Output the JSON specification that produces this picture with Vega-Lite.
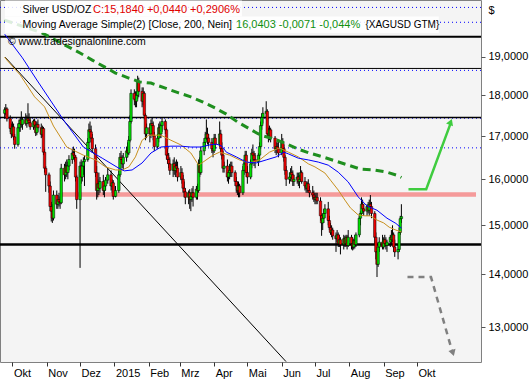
{
  "$schema": "https://vega.github.io/schema/vega-lite/v6.json",
  "width": 481,
  "height": 362,
  "autosize": {"type": "none"},
  "padding": {"left": 0, "top": 0, "right": 48, "bottom": 18},
  "background": "#ffffff",
  "config": {
    "font": "Liberation Sans",
    "view": {"fill": "#f4f4f4", "stroke": "#808080", "strokeWidth": 1}
  },
  "datasets": {
    "one": [{}],
    "ohlc": [
      {"d":"2014-09-24","o":17.55,"h":17.70,"l":17.42,"c":17.64},
      {"d":"2014-09-25","o":17.64,"h":17.78,"l":17.50,"c":17.66},
      {"d":"2014-09-26","o":17.66,"h":17.70,"l":17.35,"c":17.42},
      {"d":"2014-09-29","o":17.42,"h":17.50,"l":17.10,"c":17.18},
      {"d":"2014-09-30","o":17.18,"h":17.30,"l":16.95,"c":17.05},
      {"d":"2014-10-01","o":17.05,"h":17.35,"l":17.00,"c":17.22},
      {"d":"2014-10-02","o":17.22,"h":17.30,"l":16.90,"c":16.98},
      {"d":"2014-10-03","o":16.98,"h":17.05,"l":16.70,"c":16.80},
      {"d":"2014-10-06","o":16.80,"h":17.30,"l":16.75,"c":17.20},
      {"d":"2014-10-07","o":17.20,"h":17.40,"l":17.10,"c":17.30},
      {"d":"2014-10-08","o":17.30,"h":17.45,"l":17.10,"c":17.38},
      {"d":"2014-10-09","o":17.38,"h":17.60,"l":17.20,"c":17.28},
      {"d":"2014-10-10","o":17.28,"h":17.45,"l":17.15,"c":17.40},
      {"d":"2014-10-13","o":17.40,"h":17.55,"l":17.25,"c":17.30},
      {"d":"2014-10-14","o":17.30,"h":17.50,"l":17.20,"c":17.42},
      {"d":"2014-10-15","o":17.42,"h":17.80,"l":17.30,"c":17.38},
      {"d":"2014-10-16","o":17.38,"h":17.55,"l":17.25,"c":17.32},
      {"d":"2014-10-17","o":17.32,"h":17.45,"l":17.15,"c":17.22},
      {"d":"2014-10-20","o":17.22,"h":17.40,"l":17.15,"c":17.36},
      {"d":"2014-10-21","o":17.36,"h":17.42,"l":17.20,"c":17.26},
      {"d":"2014-10-22","o":17.26,"h":17.35,"l":17.00,"c":17.08},
      {"d":"2014-10-23","o":17.08,"h":17.35,"l":17.02,"c":17.28},
      {"d":"2014-10-24","o":17.28,"h":17.40,"l":17.10,"c":17.20},
      {"d":"2014-10-27","o":17.20,"h":17.30,"l":16.95,"c":17.04},
      {"d":"2014-10-28","o":17.04,"h":17.25,"l":16.98,"c":17.18},
      {"d":"2014-10-29","o":17.18,"h":17.22,"l":16.55,"c":16.62},
      {"d":"2014-10-30","o":16.62,"h":16.70,"l":16.15,"c":16.25},
      {"d":"2014-10-31","o":16.25,"h":16.30,"l":15.72,"c":16.10},
      {"d":"2014-11-03","o":16.10,"h":16.15,"l":15.70,"c":15.85},
      {"d":"2014-11-04","o":15.85,"h":15.95,"l":15.30,"c":15.40},
      {"d":"2014-11-05","o":15.40,"h":15.50,"l":15.08,"c":15.30},
      {"d":"2014-11-06","o":15.30,"h":15.45,"l":15.05,"c":15.15},
      {"d":"2014-11-07","o":15.15,"h":15.75,"l":15.10,"c":15.65},
      {"d":"2014-11-10","o":15.65,"h":15.75,"l":15.35,"c":15.45},
      {"d":"2014-11-11","o":15.45,"h":15.65,"l":15.35,"c":15.55},
      {"d":"2014-11-12","o":15.55,"h":15.70,"l":15.40,"c":15.50},
      {"d":"2014-11-13","o":15.50,"h":15.62,"l":15.35,"c":15.48},
      {"d":"2014-11-14","o":15.48,"h":16.35,"l":15.45,"c":16.25},
      {"d":"2014-11-17","o":16.25,"h":16.35,"l":15.95,"c":16.10},
      {"d":"2014-11-18","o":16.10,"h":16.40,"l":16.00,"c":16.30},
      {"d":"2014-11-19","o":16.30,"h":16.45,"l":16.05,"c":16.15},
      {"d":"2014-11-20","o":16.15,"h":16.40,"l":16.00,"c":16.30},
      {"d":"2014-11-21","o":16.30,"h":16.55,"l":16.20,"c":16.45},
      {"d":"2014-11-24","o":16.45,"h":16.70,"l":16.35,"c":16.60},
      {"d":"2014-11-25","o":16.60,"h":16.75,"l":16.45,"c":16.55},
      {"d":"2014-11-26","o":16.55,"h":16.70,"l":16.40,"c":16.50},
      {"d":"2014-11-27","o":16.50,"h":16.55,"l":15.95,"c":16.05},
      {"d":"2014-11-28","o":16.05,"h":16.10,"l":15.35,"c":15.55},
      {"d":"2014-12-01","o":15.55,"h":16.40,"l":14.13,"c":16.30},
      {"d":"2014-12-02","o":16.30,"h":16.45,"l":15.90,"c":16.05},
      {"d":"2014-12-03","o":16.05,"h":16.40,"l":15.95,"c":16.30},
      {"d":"2014-12-04","o":16.30,"h":16.50,"l":16.10,"c":16.40},
      {"d":"2014-12-05","o":16.40,"h":16.55,"l":15.85,"c":16.45},
      {"d":"2014-12-08","o":16.45,"h":16.95,"l":16.40,"c":16.85},
      {"d":"2014-12-09","o":16.85,"h":17.30,"l":16.70,"c":17.15},
      {"d":"2014-12-10","o":17.15,"h":17.35,"l":16.95,"c":17.10},
      {"d":"2014-12-11","o":17.10,"h":17.25,"l":16.85,"c":16.95},
      {"d":"2014-12-12","o":16.95,"h":17.05,"l":16.60,"c":16.70},
      {"d":"2014-12-15","o":16.70,"h":16.80,"l":16.05,"c":16.15},
      {"d":"2014-12-16","o":16.15,"h":16.30,"l":15.55,"c":15.75},
      {"d":"2014-12-17","o":15.75,"h":16.00,"l":15.60,"c":15.90},
      {"d":"2014-12-18","o":15.90,"h":16.15,"l":15.65,"c":15.80},
      {"d":"2014-12-19","o":15.80,"h":16.05,"l":15.70,"c":15.95},
      {"d":"2014-12-22","o":15.95,"h":16.10,"l":15.65,"c":15.75},
      {"d":"2014-12-23","o":15.75,"h":15.95,"l":15.60,"c":15.85},
      {"d":"2014-12-24","o":15.85,"h":16.05,"l":15.75,"c":15.98},
      {"d":"2014-12-26","o":15.98,"h":16.25,"l":15.90,"c":16.10},
      {"d":"2014-12-29","o":16.10,"h":16.20,"l":15.75,"c":15.85},
      {"d":"2014-12-30","o":15.85,"h":16.00,"l":15.70,"c":15.92},
      {"d":"2014-12-31","o":15.92,"h":15.98,"l":15.55,"c":15.62},
      {"d":"2015-01-02","o":15.62,"h":15.85,"l":15.60,"c":15.75},
      {"d":"2015-01-05","o":15.75,"h":16.20,"l":15.70,"c":16.10},
      {"d":"2015-01-06","o":16.10,"h":16.60,"l":16.05,"c":16.50},
      {"d":"2015-01-07","o":16.50,"h":16.65,"l":16.35,"c":16.45},
      {"d":"2015-01-08","o":16.45,"h":16.55,"l":16.25,"c":16.35},
      {"d":"2015-01-09","o":16.35,"h":16.60,"l":16.20,"c":16.50},
      {"d":"2015-01-12","o":16.50,"h":16.75,"l":16.40,"c":16.65},
      {"d":"2015-01-13","o":16.65,"h":16.85,"l":16.50,"c":16.60},
      {"d":"2015-01-14","o":16.60,"h":17.00,"l":16.55,"c":16.90},
      {"d":"2015-01-15","o":16.90,"h":17.50,"l":16.85,"c":17.35},
      {"d":"2015-01-16","o":17.35,"h":18.15,"l":17.30,"c":18.05},
      {"d":"2015-01-19","o":18.05,"h":18.15,"l":17.75,"c":17.90},
      {"d":"2015-01-20","o":17.90,"h":18.10,"l":17.70,"c":17.85},
      {"d":"2015-01-21","o":17.85,"h":18.10,"l":17.70,"c":18.00},
      {"d":"2015-01-22","o":18.00,"h":18.50,"l":17.90,"c":18.35},
      {"d":"2015-01-23","o":18.35,"h":18.45,"l":17.95,"c":18.10},
      {"d":"2015-01-26","o":18.10,"h":18.20,"l":17.70,"c":17.85},
      {"d":"2015-01-27","o":17.85,"h":18.20,"l":17.75,"c":18.05},
      {"d":"2015-01-28","o":18.05,"h":18.10,"l":17.40,"c":17.50},
      {"d":"2015-01-29","o":17.50,"h":17.55,"l":16.90,"c":17.05},
      {"d":"2015-01-30","o":17.05,"h":17.30,"l":16.95,"c":17.20},
      {"d":"2015-02-02","o":17.20,"h":17.30,"l":16.85,"c":17.05},
      {"d":"2015-02-03","o":17.05,"h":17.40,"l":16.95,"c":17.30},
      {"d":"2015-02-04","o":17.30,"h":17.45,"l":17.10,"c":17.25},
      {"d":"2015-02-05","o":17.25,"h":17.35,"l":16.90,"c":17.00},
      {"d":"2015-02-06","o":17.00,"h":17.10,"l":16.65,"c":16.75},
      {"d":"2015-02-09","o":16.75,"h":17.05,"l":16.70,"c":16.95},
      {"d":"2015-02-10","o":16.95,"h":17.30,"l":16.85,"c":17.20},
      {"d":"2015-02-11","o":17.20,"h":17.35,"l":16.95,"c":17.05},
      {"d":"2015-02-12","o":17.05,"h":17.30,"l":16.95,"c":17.25},
      {"d":"2015-02-13","o":17.25,"h":17.45,"l":17.10,"c":17.35},
      {"d":"2015-02-16","o":17.35,"h":17.40,"l":17.05,"c":17.15},
      {"d":"2015-02-17","o":17.15,"h":17.20,"l":16.45,"c":16.55},
      {"d":"2015-02-18","o":16.55,"h":16.70,"l":16.35,"c":16.45},
      {"d":"2015-02-19","o":16.45,"h":16.60,"l":16.25,"c":16.35},
      {"d":"2015-02-20","o":16.35,"h":16.50,"l":16.10,"c":16.20},
      {"d":"2015-02-23","o":16.20,"h":16.45,"l":16.05,"c":16.35},
      {"d":"2015-02-24","o":16.35,"h":16.50,"l":16.10,"c":16.20},
      {"d":"2015-02-25","o":16.20,"h":16.40,"l":16.05,"c":16.30},
      {"d":"2015-02-26","o":16.30,"h":16.45,"l":16.15,"c":16.25},
      {"d":"2015-02-27","o":16.25,"h":16.40,"l":15.95,"c":16.05},
      {"d":"2015-03-02","o":16.05,"h":16.30,"l":15.98,"c":16.15},
      {"d":"2015-03-03","o":16.15,"h":16.25,"l":15.90,"c":16.00},
      {"d":"2015-03-04","o":16.00,"h":16.10,"l":15.70,"c":15.80},
      {"d":"2015-03-05","o":15.80,"h":15.95,"l":15.60,"c":15.72},
      {"d":"2015-03-06","o":15.72,"h":15.80,"l":15.45,"c":15.60},
      {"d":"2015-03-09","o":15.60,"h":15.75,"l":15.45,"c":15.70},
      {"d":"2015-03-10","o":15.70,"h":15.78,"l":15.35,"c":15.55},
      {"d":"2015-03-11","o":15.55,"h":15.65,"l":15.30,"c":15.62},
      {"d":"2015-03-12","o":15.62,"h":15.80,"l":15.50,"c":15.70},
      {"d":"2015-03-13","o":15.70,"h":15.85,"l":15.40,"c":15.60},
      {"d":"2015-03-16","o":15.60,"h":15.85,"l":15.55,"c":15.78},
      {"d":"2015-03-17","o":15.78,"h":15.90,"l":15.55,"c":15.75},
      {"d":"2015-03-18","o":15.75,"h":16.45,"l":15.70,"c":16.35},
      {"d":"2015-03-19","o":16.35,"h":16.50,"l":16.05,"c":16.15},
      {"d":"2015-03-20","o":16.15,"h":16.75,"l":16.10,"c":16.65},
      {"d":"2015-03-23","o":16.65,"h":16.95,"l":16.55,"c":16.85},
      {"d":"2015-03-24","o":16.85,"h":17.10,"l":16.70,"c":16.95},
      {"d":"2015-03-25","o":16.95,"h":17.40,"l":16.90,"c":17.05},
      {"d":"2015-03-26","o":17.05,"h":17.20,"l":16.80,"c":16.95},
      {"d":"2015-03-27","o":16.95,"h":17.05,"l":16.75,"c":16.85},
      {"d":"2015-03-30","o":16.85,"h":16.95,"l":16.60,"c":16.70},
      {"d":"2015-03-31","o":16.70,"h":16.80,"l":16.50,"c":16.65},
      {"d":"2015-04-01","o":16.65,"h":17.05,"l":16.60,"c":16.95},
      {"d":"2015-04-02","o":16.95,"h":17.05,"l":16.70,"c":16.80},
      {"d":"2015-04-06","o":16.80,"h":17.35,"l":16.75,"c":17.05},
      {"d":"2015-04-07","o":17.05,"h":17.15,"l":16.60,"c":16.70},
      {"d":"2015-04-08","o":16.70,"h":16.85,"l":16.45,"c":16.55},
      {"d":"2015-04-09","o":16.55,"h":16.65,"l":16.15,"c":16.25},
      {"d":"2015-04-10","o":16.25,"h":16.40,"l":16.15,"c":16.30},
      {"d":"2015-04-13","o":16.30,"h":16.45,"l":15.95,"c":16.05},
      {"d":"2015-04-14","o":16.05,"h":16.20,"l":15.90,"c":16.15},
      {"d":"2015-04-15","o":16.15,"h":16.35,"l":16.00,"c":16.20},
      {"d":"2015-04-16","o":16.20,"h":16.40,"l":16.05,"c":16.30},
      {"d":"2015-04-17","o":16.30,"h":16.40,"l":16.05,"c":16.15},
      {"d":"2015-04-20","o":16.15,"h":16.20,"l":15.85,"c":15.95},
      {"d":"2015-04-21","o":15.95,"h":16.05,"l":15.70,"c":15.85},
      {"d":"2015-04-22","o":15.85,"h":15.95,"l":15.65,"c":15.75},
      {"d":"2015-04-23","o":15.75,"h":15.95,"l":15.60,"c":15.85},
      {"d":"2015-04-24","o":15.85,"h":15.90,"l":15.60,"c":15.70},
      {"d":"2015-04-27","o":15.70,"h":16.30,"l":15.65,"c":16.20},
      {"d":"2015-04-28","o":16.20,"h":16.45,"l":16.10,"c":16.35},
      {"d":"2015-04-29","o":16.35,"h":16.65,"l":16.20,"c":16.55},
      {"d":"2015-04-30","o":16.55,"h":16.65,"l":16.05,"c":16.15},
      {"d":"2015-05-01","o":16.15,"h":16.30,"l":15.90,"c":16.05},
      {"d":"2015-05-04","o":16.05,"h":16.45,"l":16.00,"c":16.35},
      {"d":"2015-05-05","o":16.35,"h":16.70,"l":16.25,"c":16.60},
      {"d":"2015-05-06","o":16.60,"h":16.80,"l":16.45,"c":16.55},
      {"d":"2015-05-07","o":16.55,"h":16.65,"l":16.30,"c":16.45},
      {"d":"2015-05-08","o":16.45,"h":16.60,"l":16.25,"c":16.40},
      {"d":"2015-05-11","o":16.40,"h":16.60,"l":16.30,"c":16.55},
      {"d":"2015-05-12","o":16.55,"h":16.85,"l":16.45,"c":16.75},
      {"d":"2015-05-13","o":16.75,"h":17.35,"l":16.70,"c":17.25},
      {"d":"2015-05-14","o":17.25,"h":17.55,"l":17.15,"c":17.45},
      {"d":"2015-05-15","o":17.45,"h":17.70,"l":17.30,"c":17.55},
      {"d":"2015-05-18","o":17.55,"h":17.85,"l":17.40,"c":17.60},
      {"d":"2015-05-19","o":17.60,"h":17.65,"l":16.95,"c":17.05},
      {"d":"2015-05-20","o":17.05,"h":17.20,"l":16.85,"c":17.00},
      {"d":"2015-05-21","o":17.00,"h":17.25,"l":16.90,"c":17.15},
      {"d":"2015-05-22","o":17.15,"h":17.20,"l":16.85,"c":16.95},
      {"d":"2015-05-26","o":16.95,"h":17.00,"l":16.60,"c":16.70},
      {"d":"2015-05-27","o":16.70,"h":16.85,"l":16.55,"c":16.75},
      {"d":"2015-05-28","o":16.75,"h":16.85,"l":16.60,"c":16.70},
      {"d":"2015-05-29","o":16.70,"h":16.90,"l":16.50,"c":16.60},
      {"d":"2015-06-01","o":16.60,"h":17.05,"l":16.55,"c":16.85},
      {"d":"2015-06-02","o":16.85,"h":16.95,"l":16.60,"c":16.70},
      {"d":"2015-06-03","o":16.70,"h":16.80,"l":16.40,"c":16.50},
      {"d":"2015-06-04","o":16.50,"h":16.55,"l":16.10,"c":16.20},
      {"d":"2015-06-05","o":16.20,"h":16.30,"l":15.85,"c":16.00},
      {"d":"2015-06-08","o":16.00,"h":16.15,"l":15.90,"c":16.05},
      {"d":"2015-06-09","o":16.05,"h":16.25,"l":15.95,"c":16.15},
      {"d":"2015-06-10","o":16.15,"h":16.30,"l":16.00,"c":16.10},
      {"d":"2015-06-11","o":16.10,"h":16.20,"l":15.85,"c":15.95},
      {"d":"2015-06-12","o":15.95,"h":16.10,"l":15.85,"c":16.00},
      {"d":"2015-06-15","o":16.00,"h":16.15,"l":15.90,"c":16.05},
      {"d":"2015-06-16","o":16.05,"h":16.15,"l":15.85,"c":15.95},
      {"d":"2015-06-17","o":15.95,"h":16.10,"l":15.80,"c":16.00},
      {"d":"2015-06-18","o":16.00,"h":16.30,"l":15.95,"c":16.15},
      {"d":"2015-06-19","o":16.15,"h":16.20,"l":15.90,"c":15.95},
      {"d":"2015-06-22","o":15.95,"h":16.05,"l":15.75,"c":15.85},
      {"d":"2015-06-23","o":15.85,"h":15.95,"l":15.70,"c":15.80},
      {"d":"2015-06-24","o":15.80,"h":15.95,"l":15.70,"c":15.90},
      {"d":"2015-06-25","o":15.90,"h":16.00,"l":15.70,"c":15.75},
      {"d":"2015-06-26","o":15.75,"h":15.85,"l":15.60,"c":15.70},
      {"d":"2015-06-29","o":15.70,"h":15.85,"l":15.55,"c":15.65},
      {"d":"2015-06-30","o":15.65,"h":15.75,"l":15.50,"c":15.60},
      {"d":"2015-07-01","o":15.60,"h":15.70,"l":15.45,"c":15.55},
      {"d":"2015-07-02","o":15.55,"h":15.70,"l":15.45,"c":15.60},
      {"d":"2015-07-03","o":15.60,"h":15.70,"l":15.45,"c":15.52},
      {"d":"2015-07-06","o":15.52,"h":15.60,"l":15.10,"c":15.20},
      {"d":"2015-07-07","o":15.20,"h":15.25,"l":14.78,"c":15.05},
      {"d":"2015-07-08","o":15.05,"h":15.25,"l":14.90,"c":15.15},
      {"d":"2015-07-09","o":15.15,"h":15.35,"l":15.05,"c":15.25},
      {"d":"2015-07-10","o":15.25,"h":15.45,"l":15.15,"c":15.35},
      {"d":"2015-07-13","o":15.35,"h":15.50,"l":15.00,"c":15.10},
      {"d":"2015-07-14","o":15.10,"h":15.20,"l":14.90,"c":14.95},
      {"d":"2015-07-15","o":14.95,"h":15.05,"l":14.80,"c":14.85},
      {"d":"2015-07-16","o":14.85,"h":15.00,"l":14.75,"c":14.90},
      {"d":"2015-07-17","o":14.90,"h":14.95,"l":14.70,"c":14.78},
      {"d":"2015-07-20","o":14.78,"h":14.85,"l":14.45,"c":14.72},
      {"d":"2015-07-21","o":14.72,"h":14.90,"l":14.65,"c":14.80},
      {"d":"2015-07-22","o":14.80,"h":14.85,"l":14.55,"c":14.62},
      {"d":"2015-07-23","o":14.62,"h":14.80,"l":14.55,"c":14.70},
      {"d":"2015-07-24","o":14.70,"h":14.75,"l":14.40,"c":14.60},
      {"d":"2015-07-27","o":14.60,"h":14.80,"l":14.50,"c":14.72},
      {"d":"2015-07-28","o":14.72,"h":14.78,"l":14.55,"c":14.62},
      {"d":"2015-07-29","o":14.62,"h":14.80,"l":14.55,"c":14.75},
      {"d":"2015-07-30","o":14.75,"h":14.80,"l":14.50,"c":14.58},
      {"d":"2015-07-31","o":14.58,"h":14.90,"l":14.55,"c":14.75},
      {"d":"2015-08-03","o":14.75,"h":14.80,"l":14.50,"c":14.62},
      {"d":"2015-08-04","o":14.62,"h":14.75,"l":14.48,"c":14.55},
      {"d":"2015-08-05","o":14.55,"h":14.72,"l":14.50,"c":14.68},
      {"d":"2015-08-06","o":14.68,"h":14.80,"l":14.52,"c":14.60},
      {"d":"2015-08-07","o":14.60,"h":14.85,"l":14.55,"c":14.80},
      {"d":"2015-08-10","o":14.80,"h":15.20,"l":14.75,"c":15.15},
      {"d":"2015-08-11","o":15.15,"h":15.30,"l":15.00,"c":15.25},
      {"d":"2015-08-12","o":15.25,"h":15.60,"l":15.20,"c":15.45},
      {"d":"2015-08-13","o":15.45,"h":15.55,"l":15.25,"c":15.35},
      {"d":"2015-08-14","o":15.35,"h":15.45,"l":15.20,"c":15.30},
      {"d":"2015-08-17","o":15.30,"h":15.45,"l":15.20,"c":15.40},
      {"d":"2015-08-18","o":15.40,"h":15.50,"l":15.25,"c":15.32},
      {"d":"2015-08-19","o":15.32,"h":15.55,"l":15.20,"c":15.45},
      {"d":"2015-08-20","o":15.45,"h":15.65,"l":15.35,"c":15.40},
      {"d":"2015-08-21","o":15.40,"h":15.50,"l":15.15,"c":15.25},
      {"d":"2015-08-24","o":15.25,"h":15.30,"l":14.60,"c":14.75},
      {"d":"2015-08-25","o":14.75,"h":14.85,"l":14.30,"c":14.45},
      {"d":"2015-08-26","o":14.45,"h":14.55,"l":13.95,"c":14.20},
      {"d":"2015-08-27","o":14.20,"h":14.65,"l":14.15,"c":14.55},
      {"d":"2015-08-28","o":14.55,"h":14.75,"l":14.45,"c":14.65},
      {"d":"2015-08-31","o":14.65,"h":14.80,"l":14.50,"c":14.55},
      {"d":"2015-09-01","o":14.55,"h":14.75,"l":14.50,"c":14.70},
      {"d":"2015-09-02","o":14.70,"h":14.80,"l":14.55,"c":14.62},
      {"d":"2015-09-03","o":14.62,"h":14.75,"l":14.50,"c":14.58},
      {"d":"2015-09-04","o":14.58,"h":14.70,"l":14.45,"c":14.65},
      {"d":"2015-09-07","o":14.65,"h":14.80,"l":14.55,"c":14.75},
      {"d":"2015-09-08","o":14.75,"h":14.90,"l":14.60,"c":14.70},
      {"d":"2015-09-09","o":14.70,"h":15.00,"l":14.65,"c":14.80},
      {"d":"2015-09-10","o":14.80,"h":14.85,"l":14.45,"c":14.55},
      {"d":"2015-09-11","o":14.55,"h":14.70,"l":14.35,"c":14.45},
      {"d":"2015-09-14","o":14.45,"h":14.60,"l":14.30,"c":14.50},
      {"d":"2015-09-15","o":14.50,"h":14.95,"l":14.45,"c":14.85},
      {"d":"2015-09-16","o":14.85,"h":15.20,"l":14.80,"c":15.14},
      {"d":"2015-09-17","o":15.14,"h":15.45,"l":15.05,"c":15.184}
    ],
    "ma200": [
      {"d":"2014-09-24","v":20.00},{"d":"2014-10-28","v":19.64},{"d":"2014-12-01","v":19.10},
      {"d":"2014-12-12","v":18.91},{"d":"2014-12-23","v":18.73},{"d":"2015-01-02","v":18.57},
      {"d":"2015-01-14","v":18.44},{"d":"2015-01-24","v":18.34},{"d":"2015-02-03","v":18.31},
      {"d":"2015-02-16","v":18.18},{"d":"2015-02-28","v":18.06},{"d":"2015-03-11","v":17.96},
      {"d":"2015-03-22","v":17.83},{"d":"2015-04-02","v":17.68},{"d":"2015-04-12","v":17.53},
      {"d":"2015-04-22","v":17.34},{"d":"2015-05-03","v":17.17},{"d":"2015-05-13","v":17.02},
      {"d":"2015-05-25","v":16.93},{"d":"2015-06-04","v":16.83},{"d":"2015-06-16","v":16.69},
      {"d":"2015-06-26","v":16.60},{"d":"2015-07-08","v":16.51},{"d":"2015-07-19","v":16.42},
      {"d":"2015-07-31","v":16.32},{"d":"2015-08-11","v":16.23},{"d":"2015-08-23","v":16.21},
      {"d":"2015-09-04","v":16.16},{"d":"2015-09-14","v":16.08},{"d":"2015-09-17","v":16.04}
    ],
    "maBlue": [
      {"d":"2014-09-24","v":19.61},{"d":"2014-10-10","v":18.97},{"d":"2014-10-23","v":18.39},
      {"d":"2014-11-16","v":17.39},{"d":"2014-12-04","v":16.74},{"d":"2014-12-21","v":16.48},
      {"d":"2015-01-05","v":16.25},{"d":"2015-01-10","v":16.19},{"d":"2015-01-17","v":16.21},
      {"d":"2015-01-26","v":16.37},{"d":"2015-02-03","v":16.60},{"d":"2015-02-12","v":16.74},
      {"d":"2015-02-21","v":16.76},{"d":"2015-03-02","v":16.76},{"d":"2015-03-11","v":16.74},
      {"d":"2015-03-20","v":16.74},{"d":"2015-03-28","v":16.79},{"d":"2015-04-03","v":16.81},
      {"d":"2015-04-08","v":16.76},{"d":"2015-04-12","v":16.62},{"d":"2015-04-21","v":16.51},
      {"d":"2015-04-30","v":16.39},{"d":"2015-05-09","v":16.37},{"d":"2015-05-18","v":16.44},
      {"d":"2015-05-27","v":16.51},{"d":"2015-06-03","v":16.62},{"d":"2015-06-07","v":16.58},
      {"d":"2015-06-16","v":16.48},{"d":"2015-06-25","v":16.44},{"d":"2015-07-04","v":16.39},
      {"d":"2015-07-13","v":16.32},{"d":"2015-07-22","v":16.16},{"d":"2015-07-31","v":15.94},
      {"d":"2015-08-09","v":15.61},{"d":"2015-08-17","v":15.41},{"d":"2015-08-26","v":15.32},
      {"d":"2015-09-04","v":15.15},{"d":"2015-09-12","v":15.04},{"d":"2015-09-17","v":14.94}
    ],
    "maOrange": [
      {"d":"2014-09-24","v":18.99},{"d":"2014-09-26","v":18.91},{"d":"2014-10-08","v":18.52},
      {"d":"2014-10-21","v":17.96},{"d":"2014-10-30","v":17.71},{"d":"2014-11-07","v":17.24},
      {"d":"2014-11-19","v":16.74},{"d":"2014-12-04","v":16.55},{"d":"2014-12-15","v":16.44},
      {"d":"2014-12-24","v":16.28},{"d":"2015-01-02","v":16.21},{"d":"2015-01-08","v":16.21},
      {"d":"2015-01-14","v":16.28},{"d":"2015-01-20","v":16.51},{"d":"2015-01-26","v":16.90},
      {"d":"2015-02-01","v":17.02},{"d":"2015-02-12","v":17.02},{"d":"2015-02-21","v":16.90},
      {"d":"2015-03-02","v":16.79},{"d":"2015-03-11","v":16.60},{"d":"2015-03-18","v":16.32},
      {"d":"2015-03-22","v":16.39},{"d":"2015-03-31","v":16.55},{"d":"2015-04-06","v":16.62},
      {"d":"2015-04-15","v":16.55},{"d":"2015-04-24","v":16.44},{"d":"2015-05-03","v":16.37},
      {"d":"2015-05-12","v":16.44},{"d":"2015-05-21","v":16.62},{"d":"2015-05-30","v":16.72},
      {"d":"2015-06-07","v":16.62},{"d":"2015-06-16","v":16.51},{"d":"2015-06-25","v":16.35},
      {"d":"2015-07-01","v":16.28},{"d":"2015-07-10","v":16.14},{"d":"2015-07-15","v":15.98},
      {"d":"2015-07-22","v":15.76},{"d":"2015-07-28","v":15.54},{"d":"2015-08-02","v":15.37},
      {"d":"2015-08-09","v":15.22},{"d":"2015-08-15","v":15.20},{"d":"2015-08-20","v":15.20},
      {"d":"2015-08-26","v":15.11},{"d":"2015-09-01","v":15.05},{"d":"2015-09-06","v":14.96},
      {"d":"2015-09-12","v":14.90},{"d":"2015-09-17","v":14.86}
    ],
    "trend": [
      {"d":"2014-09-24T06:30:00Z","v":18.99},
      {"d":"2015-06-04T21:36:00Z","v":12.39}
    ],
    "up": [
      {"d":"2015-09-23T09:36:00Z","v":15.78},
      {"d":"2015-10-09T09:36:00Z","v":15.78},
      {"d":"2015-10-31T12:00:00Z","v":17.31}
    ],
    "down": [
      {"d":"2015-09-22T12:00:00Z","v":13.95},
      {"d":"2015-10-13T17:00:00Z","v":13.95},
      {"d":"2015-11-02T00:00:00Z","v":12.56}
    ]
  },
  "layer": [
    {
      "data": {"name": "one"},
      "mark": {"type": "rect", "fill": "#f59a9a"},
      "encoding": {
        "x": {"datum": {"year": 2014, "month": 11, "date": 13, "hours": 14, "utc": true}, "type": "temporal",
          "scale": {"type": "utc", "nice": false, "domain": [{"year": 2014, "month": 9, "date": 24, "hours": 6, "minutes": 30, "utc": true}, {"year": 2015, "month": 11, "date": 23, "hours": 8, "utc": true}]},
          "axis": {
            "values": [
              {"year": 2014, "month": 10, "date": 1, "utc": true},
              {"year": 2014, "month": 11, "date": 1, "utc": true},
              {"year": 2014, "month": 12, "date": 1, "utc": true},
              {"year": 2015, "month": 1, "date": 1, "utc": true},
              {"year": 2015, "month": 2, "date": 1, "utc": true},
              {"year": 2015, "month": 3, "date": 1, "utc": true},
              {"year": 2015, "month": 4, "date": 1, "utc": true},
              {"year": 2015, "month": 5, "date": 1, "utc": true},
              {"year": 2015, "month": 6, "date": 1, "utc": true},
              {"year": 2015, "month": 7, "date": 1, "utc": true},
              {"year": 2015, "month": 8, "date": 1, "utc": true},
              {"year": 2015, "month": 9, "date": 1, "utc": true},
              {"year": 2015, "month": 10, "date": 1, "utc": true}
            ],
            "labelExpr": "utcmonth(datum.value) == 0 ? utcFormat(datum.value, '%Y') : ['Jan','Feb','Mrz','Apr','Mai','Jun','Jul','Aug','Sep','Okt','Nov','Dez'][utcmonth(datum.value)]",
            "title": null, "grid": false, "domain": false,
            "tickSize": 4, "tickColor": "#333333", "labelAlign": "left", "labelOffset": 1,
            "labelPadding": 1, "labelFontSize": 11, "labelColor": "#000000", "labelFont": "Liberation Sans",
            "labelOverlap": false, "labelBound": false, "labelFlush": false
          }},
        "x2": {"datum": {"year": 2015, "month": 11, "date": 23, "hours": 8, "utc": true}},
        "y": {"datum": 15.71, "type": "quantitative",
          "scale": {"type": "log", "nice": false, "zero": false, "domain": [12.383, 20.573]},
          "axis": {
            "orient": "right", "values": [13, 14, 15, 16, 17, 18, 19],
            "labelExpr": "replace(format(datum.value, '.4f'), '.', ',')",
            "title": "$", "titleAngle": 0, "titleX": 7, "titleY": 10, "titleAlign": "left", "titleBaseline": "middle",
            "titleFontSize": 11, "titleFontWeight": "normal", "titleColor": "#000000", "titleFont": "Liberation Sans",
            "grid": false, "domain": false, "tickSize": 4, "tickColor": "#555555",
            "labelPadding": 3, "labelFontSize": 11, "labelColor": "#000000", "labelFont": "Liberation Sans",
            "labelOverlap": false, "labelBound": false, "labelFlush": false
          }},
        "y2": {"datum": 15.61}
      }
    },
    {
      "data": {"name": "one"},
      "mark": {"type": "rule", "color": "#0000ff", "strokeWidth": 1, "strokeDash": [1, 3]},
      "encoding": {"y": {"datum": 20.36, "type": "quantitative", "scale": {"type": "log", "nice": false, "zero": false, "domain": [12.383, 20.573]}}}
    },
    {
      "data": {"name": "one"},
      "mark": {"type": "rule", "color": "#0000ff", "strokeWidth": 1, "strokeDash": [1, 3]},
      "encoding": {"y": {"datum": 19.94, "type": "quantitative", "scale": {"type": "log", "nice": false, "zero": false, "domain": [12.383, 20.573]}}}
    },
    {
      "data": {"name": "one"},
      "mark": {"type": "rule", "color": "#0000ff", "strokeWidth": 1, "strokeDash": [1, 3]},
      "encoding": {"y": {"datum": 18.64, "type": "quantitative", "scale": {"type": "log", "nice": false, "zero": false, "domain": [12.383, 20.573]}}}
    },
    {
      "data": {"name": "one"},
      "mark": {"type": "rule", "color": "#0000ff", "strokeWidth": 1, "strokeDash": [1, 3]},
      "encoding": {"y": {"datum": 17.43, "type": "quantitative", "scale": {"type": "log", "nice": false, "zero": false, "domain": [12.383, 20.573]}}}
    },
    {
      "data": {"name": "one"},
      "mark": {"type": "rule", "color": "#0000ff", "strokeWidth": 1, "strokeDash": [1, 3]},
      "encoding": {"y": {"datum": 16.72, "type": "quantitative", "scale": {"type": "log", "nice": false, "zero": false, "domain": [12.383, 20.573]}}}
    },
    {
      "data": {"name": "one"},
      "mark": {"type": "rule", "color": "#000000", "strokeWidth": 2},
      "encoding": {"y": {"datum": 19.54, "type": "quantitative", "scale": {"type": "log", "nice": false, "zero": false, "domain": [12.383, 20.573]}}}
    },
    {
      "data": {"name": "one"},
      "mark": {"type": "rule", "color": "#000000", "strokeWidth": 1},
      "encoding": {"y": {"datum": 18.69, "type": "quantitative", "scale": {"type": "log", "nice": false, "zero": false, "domain": [12.383, 20.573]}}}
    },
    {
      "data": {"name": "one"},
      "mark": {"type": "rule", "color": "#000000", "strokeWidth": 1.5},
      "encoding": {"y": {"datum": 17.45, "type": "quantitative", "scale": {"type": "log", "nice": false, "zero": false, "domain": [12.383, 20.573]}}}
    },
    {
      "data": {"name": "one"},
      "mark": {"type": "rule", "color": "#000000", "strokeWidth": 2.5},
      "encoding": {"y": {"datum": 14.60, "type": "quantitative", "scale": {"type": "log", "nice": false, "zero": false, "domain": [12.383, 20.573]}}}
    },
    {
      "data": {"name": "trend"},
      "mark": {"type": "line", "color": "#000000", "strokeWidth": 1, "clip": true},
      "encoding": {
        "x": {"field": "d", "type": "temporal", "scale": {"type": "utc", "nice": false, "domain": [{"year": 2014, "month": 9, "date": 24, "hours": 6, "minutes": 30, "utc": true}, {"year": 2015, "month": 11, "date": 23, "hours": 8, "utc": true}]}},
        "y": {"field": "v", "type": "quantitative", "scale": {"type": "log", "nice": false, "zero": false, "domain": [12.383, 20.573]}}
      }
    },
    {
      "data": {"name": "ohlc"},
      "mark": {"type": "rule", "color": "#000000", "strokeWidth": 1},
      "encoding": {
        "x": {"field": "d", "type": "temporal", "scale": {"type": "utc", "nice": false, "domain": [{"year": 2014, "month": 9, "date": 24, "hours": 6, "minutes": 30, "utc": true}, {"year": 2015, "month": 11, "date": 23, "hours": 8, "utc": true}]}},
        "y": {"field": "l", "type": "quantitative", "scale": {"type": "log", "nice": false, "zero": false, "domain": [12.383, 20.573]}},
        "y2": {"field": "h"}
      }
    },
    {
      "data": {"name": "ohlc"},
      "mark": {"type": "bar", "size": 2.5, "stroke": "#000000", "strokeWidth": 0.5},
      "encoding": {
        "x": {"field": "d", "type": "temporal", "scale": {"type": "utc", "nice": false, "domain": [{"year": 2014, "month": 9, "date": 24, "hours": 6, "minutes": 30, "utc": true}, {"year": 2015, "month": 11, "date": 23, "hours": 8, "utc": true}]}},
        "y": {"field": "o", "type": "quantitative", "scale": {"type": "log", "nice": false, "zero": false, "domain": [12.383, 20.573]}},
        "y2": {"field": "c"},
        "color": {"condition": {"test": "datum.c >= datum.o", "value": "#00dd00"}, "value": "#ee0000"}
      }
    },
    {
      "data": {"name": "maOrange"},
      "mark": {"type": "line", "color": "#c8901e", "strokeWidth": 1, "clip": true},
      "encoding": {
        "x": {"field": "d", "type": "temporal", "scale": {"type": "utc", "nice": false, "domain": [{"year": 2014, "month": 9, "date": 24, "hours": 6, "minutes": 30, "utc": true}, {"year": 2015, "month": 11, "date": 23, "hours": 8, "utc": true}]}},
        "y": {"field": "v", "type": "quantitative", "scale": {"type": "log", "nice": false, "zero": false, "domain": [12.383, 20.573]}}
      }
    },
    {
      "data": {"name": "maBlue"},
      "mark": {"type": "line", "color": "#0000ff", "strokeWidth": 1, "clip": true},
      "encoding": {
        "x": {"field": "d", "type": "temporal", "scale": {"type": "utc", "nice": false, "domain": [{"year": 2014, "month": 9, "date": 24, "hours": 6, "minutes": 30, "utc": true}, {"year": 2015, "month": 11, "date": 23, "hours": 8, "utc": true}]}},
        "y": {"field": "v", "type": "quantitative", "scale": {"type": "log", "nice": false, "zero": false, "domain": [12.383, 20.573]}}
      }
    },
    {
      "data": {"name": "ma200"},
      "mark": {"type": "line", "color": "#1f8f1f", "strokeWidth": 3, "strokeDash": [8, 5], "clip": true},
      "encoding": {
        "x": {"field": "d", "type": "temporal", "scale": {"type": "utc", "nice": false, "domain": [{"year": 2014, "month": 9, "date": 24, "hours": 6, "minutes": 30, "utc": true}, {"year": 2015, "month": 11, "date": 23, "hours": 8, "utc": true}]}},
        "y": {"field": "v", "type": "quantitative", "scale": {"type": "log", "nice": false, "zero": false, "domain": [12.383, 20.573]}}
      }
    },
    {
      "data": {"name": "up"},
      "mark": {"type": "line", "color": "#3fcc3f", "strokeWidth": 2.5},
      "encoding": {
        "x": {"field": "d", "type": "temporal", "scale": {"type": "utc", "nice": false, "domain": [{"year": 2014, "month": 9, "date": 24, "hours": 6, "minutes": 30, "utc": true}, {"year": 2015, "month": 11, "date": 23, "hours": 8, "utc": true}]}},
        "y": {"field": "v", "type": "quantitative", "scale": {"type": "log", "nice": false, "zero": false, "domain": [12.383, 20.573]}}
      }
    },
    {
      "data": {"name": "one"},
      "mark": {"type": "point", "shape": "triangle-up", "filled": true, "color": "#3fcc3f", "size": 55, "angle": 21, "opacity": 1},
      "encoding": {
        "x": {"datum": {"year": 2015, "month": 10, "date": 31, "hours": 12, "utc": true}, "type": "temporal", "scale": {"type": "utc", "nice": false, "domain": [{"year": 2014, "month": 9, "date": 24, "hours": 6, "minutes": 30, "utc": true}, {"year": 2015, "month": 11, "date": 23, "hours": 8, "utc": true}]}},
        "y": {"datum": 17.34, "type": "quantitative", "scale": {"type": "log", "nice": false, "zero": false, "domain": [12.383, 20.573]}}
      }
    },
    {
      "data": {"name": "down"},
      "mark": {"type": "line", "color": "#808080", "strokeWidth": 2.5, "strokeDash": [6, 5]},
      "encoding": {
        "x": {"field": "d", "type": "temporal", "scale": {"type": "utc", "nice": false, "domain": [{"year": 2014, "month": 9, "date": 24, "hours": 6, "minutes": 30, "utc": true}, {"year": 2015, "month": 11, "date": 23, "hours": 8, "utc": true}]}},
        "y": {"field": "v", "type": "quantitative", "scale": {"type": "log", "nice": false, "zero": false, "domain": [12.383, 20.573]}}
      }
    },
    {
      "data": {"name": "one"},
      "mark": {"type": "point", "shape": "triangle-up", "filled": true, "color": "#808080", "size": 55, "angle": 163, "opacity": 1},
      "encoding": {
        "x": {"datum": {"year": 2015, "month": 11, "date": 2, "hours": 12, "utc": true}, "type": "temporal", "scale": {"type": "utc", "nice": false, "domain": [{"year": 2014, "month": 9, "date": 24, "hours": 6, "minutes": 30, "utc": true}, {"year": 2015, "month": 11, "date": 23, "hours": 8, "utc": true}]}},
        "y": {"datum": 12.54, "type": "quantitative", "scale": {"type": "log", "nice": false, "zero": false, "domain": [12.383, 20.573]}}
      }
    },
    {
      "data": {"name": "one"},
      "mark": {"type": "rect", "fill": "#ffffff", "opacity": 0.85},
      "encoding": {
        "x": {"datum": {"year": 2014, "month": 9, "date": 24, "hours": 6, "minutes": 30, "utc": true}, "type": "temporal", "scale": {"type": "utc", "nice": false, "domain": [{"year": 2014, "month": 9, "date": 24, "hours": 6, "minutes": 30, "utc": true}, {"year": 2015, "month": 11, "date": 23, "hours": 8, "utc": true}]}},
        "x2": {"datum": {"year": 2015, "month": 4, "date": 26, "hours": 2, "utc": true}},
        "y": {"datum": 20.558, "type": "quantitative", "scale": {"type": "log", "nice": false, "zero": false, "domain": [12.383, 20.573]}},
        "y2": {"datum": 20.10}
      }
    },
    {
      "data": {"name": "one"},
      "mark": {"type": "rect", "fill": "#ffffff", "opacity": 0.85},
      "encoding": {
        "x": {"datum": {"year": 2014, "month": 9, "date": 24, "hours": 6, "minutes": 30, "utc": true}, "type": "temporal", "scale": {"type": "utc", "nice": false, "domain": [{"year": 2014, "month": 9, "date": 24, "hours": 6, "minutes": 30, "utc": true}, {"year": 2015, "month": 11, "date": 23, "hours": 8, "utc": true}]}},
        "x2": {"datum": {"year": 2015, "month": 10, "date": 20, "hours": 19, "utc": true}},
        "y": {"datum": 20.10, "type": "quantitative", "scale": {"type": "log", "nice": false, "zero": false, "domain": [12.383, 20.573]}},
        "y2": {"datum": 19.64}
      }
    },
    {
      "data": {"name": "one"},
      "mark": {"type": "text", "text": "Silver USD/OZ", "align": "left", "baseline": "alphabetic", "fontSize": 10.5, "color": "#000000"},
      "encoding": {
        "x": {"datum": {"year": 2014, "month": 10, "date": 10, "hours": 4, "utc": true}, "type": "temporal", "scale": {"type": "utc", "nice": false, "domain": [{"year": 2014, "month": 9, "date": 24, "hours": 6, "minutes": 30, "utc": true}, {"year": 2015, "month": 11, "date": 23, "hours": 8, "utc": true}]}},
        "y": {"datum": 20.19, "type": "quantitative", "scale": {"type": "log", "nice": false, "zero": false, "domain": [12.383, 20.573]}}
      }
    },
    {
      "data": {"name": "one"},
      "mark": {"type": "text", "text": "C:15,1840 +0,0440 +0,2906%", "align": "left", "baseline": "alphabetic", "fontSize": 11, "color": "#e00000"},
      "encoding": {
        "x": {"datum": {"year": 2014, "month": 12, "date": 12, "hours": 19, "utc": true}, "type": "temporal", "scale": {"type": "utc", "nice": false, "domain": [{"year": 2014, "month": 9, "date": 24, "hours": 6, "minutes": 30, "utc": true}, {"year": 2015, "month": 11, "date": 23, "hours": 8, "utc": true}]}},
        "y": {"datum": 20.19, "type": "quantitative", "scale": {"type": "log", "nice": false, "zero": false, "domain": [12.383, 20.573]}}
      }
    },
    {
      "data": {"name": "one"},
      "mark": {"type": "text", "text": "Moving Average Simple(2) [Close, 200, Nein]", "align": "left", "baseline": "alphabetic", "fontSize": 10.5, "color": "#000000"},
      "encoding": {
        "x": {"datum": {"year": 2014, "month": 10, "date": 10, "hours": 4, "utc": true}, "type": "temporal", "scale": {"type": "utc", "nice": false, "domain": [{"year": 2014, "month": 9, "date": 24, "hours": 6, "minutes": 30, "utc": true}, {"year": 2015, "month": 11, "date": 23, "hours": 8, "utc": true}]}},
        "y": {"datum": 19.77, "type": "quantitative", "scale": {"type": "log", "nice": false, "zero": false, "domain": [12.383, 20.573]}}
      }
    },
    {
      "data": {"name": "one"},
      "mark": {"type": "text", "text": "16,0403 -0,0071 -0,044%", "align": "left", "baseline": "alphabetic", "fontSize": 11, "color": "#109010"},
      "encoding": {
        "x": {"datum": {"year": 2015, "month": 4, "date": 20, "hours": 19, "utc": true}, "type": "temporal", "scale": {"type": "utc", "nice": false, "domain": [{"year": 2014, "month": 9, "date": 24, "hours": 6, "minutes": 30, "utc": true}, {"year": 2015, "month": 11, "date": 23, "hours": 8, "utc": true}]}},
        "y": {"datum": 19.77, "type": "quantitative", "scale": {"type": "log", "nice": false, "zero": false, "domain": [12.383, 20.573]}}
      }
    },
    {
      "data": {"name": "one"},
      "mark": {"type": "text", "text": "{XAGUSD GTM}", "align": "left", "baseline": "alphabetic", "fontSize": 10, "color": "#000000"},
      "encoding": {
        "x": {"datum": {"year": 2015, "month": 8, "date": 15, "hours": 12, "utc": true}, "type": "temporal", "scale": {"type": "utc", "nice": false, "domain": [{"year": 2014, "month": 9, "date": 24, "hours": 6, "minutes": 30, "utc": true}, {"year": 2015, "month": 11, "date": 23, "hours": 8, "utc": true}]}},
        "y": {"datum": 19.77, "type": "quantitative", "scale": {"type": "log", "nice": false, "zero": false, "domain": [12.383, 20.573]}}
      }
    },
    {
      "data": {"name": "one"},
      "mark": {"type": "text", "text": "© www.tradesignalonline.com", "align": "left", "baseline": "alphabetic", "fontSize": 10.5, "color": "#000000"},
      "encoding": {
        "x": {"datum": {"year": 2014, "month": 9, "date": 26, "hours": 22, "utc": true}, "type": "temporal", "scale": {"type": "utc", "nice": false, "domain": [{"year": 2014, "month": 9, "date": 24, "hours": 6, "minutes": 30, "utc": true}, {"year": 2015, "month": 11, "date": 23, "hours": 8, "utc": true}]}},
        "y": {"datum": 19.31, "type": "quantitative", "scale": {"type": "log", "nice": false, "zero": false, "domain": [12.383, 20.573]}}
      }
    }
  ]
}
